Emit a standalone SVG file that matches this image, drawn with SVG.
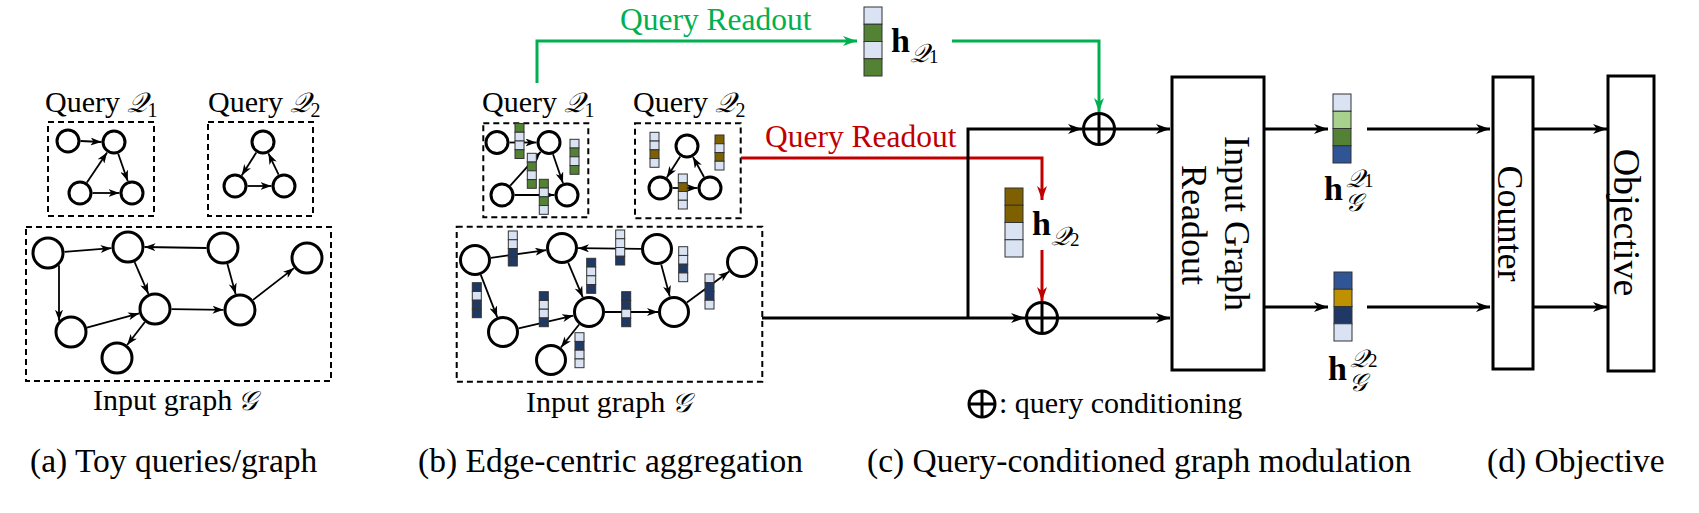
<svg xmlns="http://www.w3.org/2000/svg" width="1699" height="513" viewBox="0 0 1699 513">
<style>
text{font-family:"Liberation Serif","DejaVu Serif",serif;fill:#000}
.t30{font-size:30px}
.t31{font-size:31.5px}
.cap{font-size:33.5px}
.node{fill:#fff;stroke:#000;stroke-width:3}
.edge{stroke:#000;stroke-width:1.8;fill:none;marker-end:url(#a1)}
.box{fill:none;stroke:#000;stroke-width:2;stroke-dasharray:6 4}
.blk{stroke:#000;stroke-width:3;fill:none}
.arw{marker-end:url(#a2)}
.red{stroke:#c00000;stroke-width:3;fill:none;marker-end:url(#a2r)}
.grn{stroke:#00b050;stroke-width:3;fill:none;marker-end:url(#a2g)}
.op{fill:#fff;stroke:#000;stroke-width:3}
.rb{fill:#fff;stroke:#000;stroke-width:3}
.c rect{stroke:#333;stroke-width:1}
.L{fill:#dae3f3}.G{fill:#548235}.B{fill:#7f6000}.N{fill:#203864}.U{fill:#2f5597}.Y{fill:#bf9000}.LG{fill:#a9d18e}
</style>
<defs>
<marker id="a1" markerUnits="userSpaceOnUse" markerWidth="11" markerHeight="8" refX="11" refY="4" orient="auto"><path d="M0,0 L11,4 L0,8 L3,4 Z" fill="#000"/></marker>
<marker id="a2" markerUnits="userSpaceOnUse" markerWidth="14" markerHeight="10" refX="14" refY="5" orient="auto"><path d="M0,0 L14,5 L0,10 L4,5 Z" fill="#000"/></marker>
<marker id="a2r" markerUnits="userSpaceOnUse" markerWidth="14" markerHeight="10" refX="14" refY="5" orient="auto"><path d="M0,0 L14,5 L0,10 L4,5 Z" fill="#c00000"/></marker>
<marker id="a2g" markerUnits="userSpaceOnUse" markerWidth="14" markerHeight="10" refX="14" refY="5" orient="auto"><path d="M0,0 L14,5 L0,10 L4,5 Z" fill="#00b050"/></marker>
</defs>

<!-- Panel (a) -->
<g id="panel-a">
  <text class="t30" x="45" y="112">Query <tspan font-style="italic" font-size="28">𝒬</tspan><tspan font-size="20" dy="5">1</tspan></text>
  <text class="t30" x="208" y="112">Query <tspan font-style="italic" font-size="28">𝒬</tspan><tspan font-size="20" dy="5">2</tspan></text>
  <rect class="box" x="48" y="122" width="106" height="94"/>
  <rect class="box" x="208" y="122" width="105" height="94"/>
  <rect class="box" x="26" y="227" width="305" height="154"/>
  <g id="a-edges">
    <line class="edge" x1="80.5" y1="141" x2="101.5" y2="142"/>
    <line class="edge" x1="86.9" y1="182.6" x2="107.1" y2="152.4"/>
    <line class="edge" x1="118.2" y1="153.8" x2="127.8" y2="181.2"/>
    <line class="edge" x1="92.5" y1="193" x2="119.5" y2="193"/>
    <line class="edge" x1="256.3" y1="152.5" x2="241.7" y2="175.5"/>
    <line class="edge" x1="247.5" y1="186" x2="271.5" y2="186"/>
    <line class="edge" x1="278.6" y1="174.7" x2="268.4" y2="153.3"/>
    <line class="edge" x1="64.5" y1="251.8" x2="111.5" y2="248.2"/>
    <line class="edge" x1="59" y1="265.3" x2="59" y2="320.7"/>
    <line class="edge" x1="206.5" y1="248" x2="144.5" y2="247"/>
    <line class="edge" x1="134.6" y1="262.1" x2="148.4" y2="293.9"/>
    <line class="edge" x1="227.4" y1="263.9" x2="235.6" y2="294.1"/>
    <line class="edge" x1="86.9" y1="327.6" x2="139.1" y2="313.4"/>
    <line class="edge" x1="171.5" y1="309.2" x2="223.5" y2="309.8"/>
    <line class="edge" x1="144.9" y1="322" x2="127.1" y2="345"/>
    <line class="edge" x1="253" y1="299.9" x2="294" y2="268.1"/>
  </g>
  <g id="a-nodes">
    <circle class="node" cx="68" cy="141" r="11"/>
    <circle class="node" cx="114" cy="142" r="11"/>
    <circle class="node" cx="80" cy="193" r="11"/>
    <circle class="node" cx="132" cy="193" r="11"/>
    <circle class="node" cx="263" cy="142" r="11"/>
    <circle class="node" cx="235" cy="186" r="11"/>
    <circle class="node" cx="284" cy="186" r="11"/>
    <circle class="node" cx="48" cy="253" r="15"/>
    <circle class="node" cx="128" cy="247" r="15"/>
    <circle class="node" cx="223" cy="248" r="15"/>
    <circle class="node" cx="307" cy="258" r="15"/>
    <circle class="node" cx="71" cy="332" r="15"/>
    <circle class="node" cx="155" cy="309" r="15"/>
    <circle class="node" cx="240" cy="310" r="15"/>
    <circle class="node" cx="117" cy="358" r="15"/>
  </g>
  <text class="t30" x="93" y="410">Input graph <tspan font-style="italic" font-size="27" x="238">𝒢</tspan></text>
</g>

<!-- Panel (b) -->
<g id="panel-b">
  <text class="t30" x="482" y="112">Query <tspan font-style="italic" font-size="28">𝒬</tspan><tspan font-size="20" dy="5">1</tspan></text>
  <text class="t30" x="633" y="112">Query <tspan font-style="italic" font-size="28">𝒬</tspan><tspan font-size="20" dy="5">2</tspan></text>
  <rect class="box" x="483.3" y="123.3" width="105" height="94"/>
  <rect class="box" x="635" y="123.3" width="105.7" height="95"/>
  <rect class="box" x="456.7" y="226.7" width="305.6" height="155"/>
  <g id="b-edges">
    <line class="edge" x1="509.5" y1="142.5" x2="536.5" y2="142.5"/>
    <line class="edge" x1="510.3" y1="185.7" x2="540.7" y2="151.8"/>
    <line class="edge" x1="553" y1="154.3" x2="563" y2="183.2"/>
    <line class="edge" x1="514.5" y1="195" x2="554.5" y2="195"/>
    <line class="edge" x1="680.2" y1="156.5" x2="666.8" y2="177.5"/>
    <line class="edge" x1="672.5" y1="188" x2="697.5" y2="188"/>
    <line class="edge" x1="704" y1="177" x2="693" y2="157"/>
    <line class="edge" x1="490.9" y1="257.8" x2="546.1" y2="250.2"/>
    <line class="edge" x1="480.8" y1="274.9" x2="497.2" y2="317.1"/>
    <line class="edge" x1="641" y1="248.8" x2="578" y2="248.2"/>
    <line class="edge" x1="568.2" y1="262.7" x2="582.8" y2="297.3"/>
    <line class="edge" x1="661.2" y1="264.4" x2="669.8" y2="296.6"/>
    <line class="edge" x1="518.6" y1="328.4" x2="573.4" y2="315.6"/>
    <line class="edge" x1="605" y1="312" x2="658" y2="312"/>
    <line class="edge" x1="579.1" y1="324.5" x2="560.9" y2="347.5"/>
    <line class="edge" x1="686.9" y1="302.5" x2="729.1" y2="271.5"/>
  </g>
  <g id="b-nodes">
    <circle class="node" cx="497" cy="142.5" r="11"/>
    <circle class="node" cx="549" cy="142.5" r="11"/>
    <circle class="node" cx="502" cy="195" r="11"/>
    <circle class="node" cx="567" cy="195" r="11"/>
    <circle class="node" cx="687" cy="146" r="11"/>
    <circle class="node" cx="660" cy="188" r="11"/>
    <circle class="node" cx="710" cy="188" r="11"/>
    <circle class="node" cx="475" cy="260" r="14.5"/>
    <circle class="node" cx="562" cy="248" r="14.5"/>
    <circle class="node" cx="657" cy="249" r="14.5"/>
    <circle class="node" cx="742" cy="262" r="14.5"/>
    <circle class="node" cx="503" cy="332" r="14.5"/>
    <circle class="node" cx="589" cy="312" r="14.5"/>
    <circle class="node" cx="674" cy="312" r="14.5"/>
    <circle class="node" cx="551" cy="360" r="14.5"/>
  </g>
  <g id="b-vectors" class="c">
    <g transform="translate(515,123.5)"><rect class="G" width="9" height="8.75"/><rect class="L" y="8.75" width="9" height="8.75"/><rect class="L" y="17.5" width="9" height="8.75"/><rect class="G" y="26.25" width="9" height="8.75"/></g>
    <g transform="translate(527.3,153.3)"><rect class="L" width="9" height="8.75"/><rect class="G" y="8.75" width="9" height="8.75"/><rect class="L" y="17.5" width="9" height="8.75"/><rect class="G" y="26.25" width="9" height="8.75"/></g>
    <g transform="translate(570,139.3)"><rect class="L" width="9" height="8.75"/><rect class="G" y="8.75" width="9" height="8.75"/><rect class="L" y="17.5" width="9" height="8.75"/><rect class="G" y="26.25" width="9" height="8.75"/></g>
    <g transform="translate(539.3,179.3)"><rect class="G" width="9" height="8.75"/><rect class="L" y="8.75" width="9" height="8.75"/><rect class="G" y="17.5" width="9" height="8.75"/><rect class="L" y="26.25" width="9" height="8.75"/></g>
    <g transform="translate(650,132.3)"><rect class="L" width="9" height="8.75"/><rect class="L" y="8.75" width="9" height="8.75"/><rect class="B" y="17.5" width="9" height="8.75"/><rect class="L" y="26.25" width="9" height="8.75"/></g>
    <g transform="translate(715,135)"><rect class="B" width="9" height="8.75"/><rect class="L" y="8.75" width="9" height="8.75"/><rect class="B" y="17.5" width="9" height="8.75"/><rect class="L" y="26.25" width="9" height="8.75"/></g>
    <g transform="translate(678.3,174)"><rect class="L" width="9" height="8.75"/><rect class="B" y="8.75" width="9" height="8.75"/><rect class="L" y="17.5" width="9" height="8.75"/><rect class="L" y="26.25" width="9" height="8.75"/></g>
    <g transform="translate(508.3,231)"><rect class="L" width="9" height="8.75"/><rect class="L" y="8.75" width="9" height="8.75"/><rect class="N" y="17.5" width="9" height="8.75"/><rect class="N" y="26.25" width="9" height="8.75"/></g>
    <g transform="translate(615.7,230)"><rect class="L" width="9" height="8.75"/><rect class="L" y="8.75" width="9" height="8.75"/><rect class="L" y="17.5" width="9" height="8.75"/><rect class="N" y="26.25" width="9" height="8.75"/></g>
    <g transform="translate(678.7,246.7)"><rect class="L" width="9" height="8.75"/><rect class="L" y="8.75" width="9" height="8.75"/><rect class="N" y="17.5" width="9" height="8.75"/><rect class="L" y="26.25" width="9" height="8.75"/></g>
    <g transform="translate(586.7,258.3)"><rect class="N" width="9" height="8.75"/><rect class="L" y="8.75" width="9" height="8.75"/><rect class="L" y="17.5" width="9" height="8.75"/><rect class="N" y="26.25" width="9" height="8.75"/></g>
    <g transform="translate(472.3,282.7)"><rect class="N" width="9" height="8.75"/><rect class="L" y="8.75" width="9" height="8.75"/><rect class="N" y="17.5" width="9" height="8.75"/><rect class="N" y="26.25" width="9" height="8.75"/></g>
    <g transform="translate(539.3,291.7)"><rect class="N" width="9" height="8.75"/><rect class="L" y="8.75" width="9" height="8.75"/><rect class="L" y="17.5" width="9" height="8.75"/><rect class="N" y="26.25" width="9" height="8.75"/></g>
    <g transform="translate(621.7,291.7)"><rect class="N" width="9" height="8.75"/><rect class="N" y="8.75" width="9" height="8.75"/><rect class="L" y="17.5" width="9" height="8.75"/><rect class="N" y="26.25" width="9" height="8.75"/></g>
    <g transform="translate(705,274)"><rect class="L" width="9" height="8.75"/><rect class="N" y="8.75" width="9" height="8.75"/><rect class="N" y="17.5" width="9" height="8.75"/><rect class="L" y="26.25" width="9" height="8.75"/></g>
    <g transform="translate(575,332.7)"><rect class="L" width="9" height="8.75"/><rect class="N" y="8.75" width="9" height="8.75"/><rect class="L" y="17.5" width="9" height="8.75"/><rect class="L" y="26.25" width="9" height="8.75"/></g>
  </g>
  <text class="t30" x="526" y="412">Input graph <tspan font-style="italic" font-size="27" x="672">𝒢</tspan></text>
</g>

<!-- Connectors (c)/(d) -->
<g id="connectors">
  <polyline class="grn" points="537,83 537,41 857,41"/>
  <polyline class="grn" points="952,41 1099,41 1099,112"/>
  <polyline class="red" points="741,158 1042,158 1042,200"/>
  <line class="red" x1="1042" y1="250" x2="1042" y2="301"/>
  <line class="blk arw" x1="762" y1="318" x2="1025" y2="318"/>
  <polyline class="blk arw" points="968,318 968,129 1082,129"/>
  <line class="blk arw" x1="1115" y1="129" x2="1170" y2="129"/>
  <line class="blk arw" x1="1058" y1="318" x2="1170" y2="318"/>
  <line class="blk arw" x1="1264" y1="129" x2="1328" y2="129"/>
  <line class="blk arw" x1="1264" y1="307" x2="1328" y2="307"/>
  <line class="blk arw" x1="1367" y1="129" x2="1490" y2="129"/>
  <line class="blk arw" x1="1367" y1="307" x2="1490" y2="307"/>
  <line class="blk arw" x1="1533" y1="129" x2="1607" y2="129"/>
  <line class="blk arw" x1="1533" y1="307" x2="1607" y2="307"/>
</g>

<!-- Panel (c) -->
<g id="readout-label-green"><text class="t31" x="620" y="30" style="fill:#00b050">Query Readout</text></g>
<g id="readout-label-red"><text class="t31" x="765" y="147" style="fill:#c00000">Query Readout</text></g>
<g id="hq1">
  <g class="c" transform="translate(864,7)"><rect class="L" width="18" height="17.25"/><rect class="G" y="17.25" width="18" height="17.25"/><rect class="L" y="34.5" width="18" height="17.25"/><rect class="G" y="51.75" width="18" height="17.25"/></g>
  <text x="891" y="52" font-size="34" font-weight="bold">h<tspan font-weight="normal" font-style="italic" font-size="26" dy="10">𝒬</tspan><tspan font-weight="normal" font-size="19" dy="1">1</tspan></text>
</g>
<g id="hq2">
  <g class="c" transform="translate(1005,188)"><rect class="B" width="18" height="17.25"/><rect class="B" y="17.25" width="18" height="17.25"/><rect class="L" y="34.5" width="18" height="17.25"/><rect class="L" y="51.75" width="18" height="17.25"/></g>
  <text x="1032" y="235" font-size="34" font-weight="bold">h<tspan font-weight="normal" font-style="italic" font-size="26" dy="10">𝒬</tspan><tspan font-weight="normal" font-size="19" dy="1">2</tspan></text>
</g>
<g id="op-top">
  <circle class="op" cx="1099" cy="129" r="15.5"/>
  <path class="blk" d="M1083.5,129 H1114.5 M1099,113.5 V144.5"/>
</g>
<g id="op-bottom">
  <circle class="op" cx="1042" cy="318" r="15.5"/>
  <path class="blk" d="M1026.5,318 H1057.5 M1042,302.5 V333.5"/>
</g>
<g id="input-graph-readout">
  <rect class="rb" x="1172" y="77" width="92" height="293"/>
  <text transform="translate(1225,223.5) rotate(90)" font-size="36" text-anchor="middle">Input Graph</text>
  <text transform="translate(1182,225) rotate(90)" font-size="36" text-anchor="middle">Readout</text>
</g>
<g id="legend">
  <circle cx="982" cy="404" r="13" fill="none" stroke="#000" stroke-width="3"/>
  <path d="M969,404 H995 M982,391 V417" stroke="#000" stroke-width="3"/>
  <text class="t30" x="999" y="413">: query conditioning</text>
</g>

<!-- Panel (d) -->
<g id="hg1">
  <g class="c" transform="translate(1333,94)"><rect class="L" width="18" height="17.25"/><rect class="LG" y="17.25" width="18" height="17.25"/><rect class="G" y="34.5" width="18" height="17.25"/><rect class="U" y="51.75" width="18" height="17.25"/></g>
  <text x="1324" y="200" font-size="34" font-weight="bold">h</text>
  <text x="1346" y="187" font-size="25" font-style="italic">𝒬<tspan font-style="normal" font-size="19">1</tspan></text>
  <text x="1345" y="211" font-size="25" font-style="italic">𝒢</text>
</g>
<g id="hg2">
  <g class="c" transform="translate(1334,272)"><rect class="U" width="18" height="17.25"/><rect class="Y" y="17.25" width="18" height="17.25"/><rect class="N" y="34.5" width="18" height="17.25"/><rect class="L" y="51.75" width="18" height="17.25"/></g>
  <text x="1328" y="380" font-size="34" font-weight="bold">h</text>
  <text x="1350" y="367" font-size="25" font-style="italic">𝒬<tspan font-style="normal" font-size="19">2</tspan></text>
  <text x="1349" y="391" font-size="25" font-style="italic">𝒢</text>
</g>
<g id="counter">
  <rect class="rb" x="1493" y="77" width="40" height="292"/>
  <text transform="translate(1498,223.5) rotate(90)" font-size="36" text-anchor="middle">Counter</text>
</g>
<g id="objective">
  <rect class="rb" x="1608" y="76" width="46" height="295"/>
  <text transform="translate(1614,222.5) rotate(90)" font-size="38" text-anchor="middle">Objective</text>
</g>

<!-- Captions -->
<g id="captions">
  <text class="cap" x="30" y="472">(a) Toy queries/graph</text>
  <text class="cap" x="418" y="472">(b) Edge-centric aggregation</text>
  <text class="cap" x="867" y="472">(c) Query-conditioned graph modulation</text>
  <text class="cap" x="1487" y="472">(d) Objective</text>
</g>
</svg>
